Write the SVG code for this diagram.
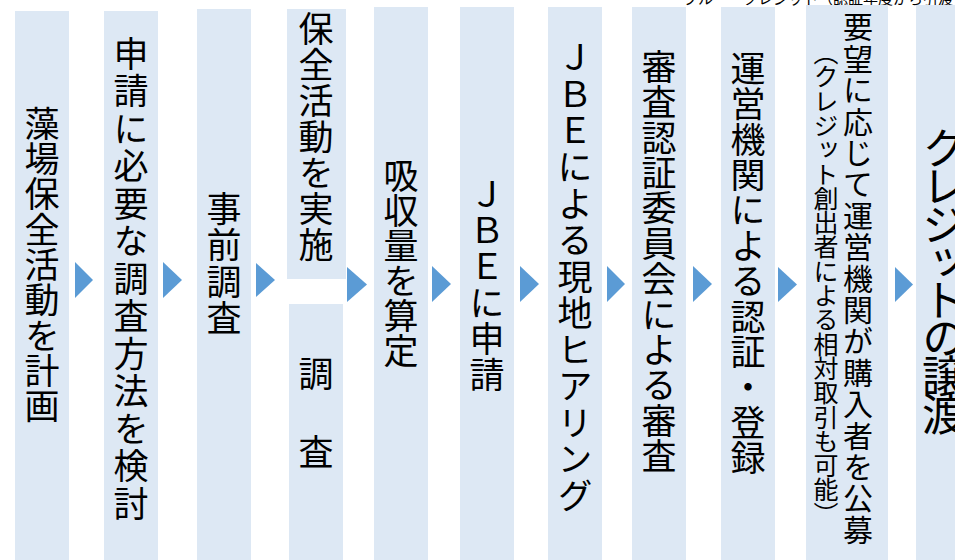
<svg xmlns="http://www.w3.org/2000/svg" width="955" height="560" viewBox="0 0 955 560">
<style>
.box{fill:#DDE8F4}
.arr{fill:#5B9BD5}
.t{font-family:"Noto Sans CJK JP","Noto Sans CJK SC",sans-serif;writing-mode:vertical-rl;font-size:35px;fill:#000}
.note{font-family:"Noto Sans CJK JP",sans-serif;font-size:15px;fill:#000}
</style>
<rect width="955" height="560" fill="#fff"/>
<text class="note" x="683" y="3.5">ブルー・クレジット（認証年度から引渡し</text>
<g id="n1"><rect class="box" x="15" y="11" width="54" height="549"/><text class="t" x="42" y="106" letter-spacing="0.3">藻場保全活動を計画</text></g>
<g id="n2"><rect class="box" x="104" y="11" width="54" height="549"/><text class="t" x="131" y="36" letter-spacing="2.5">申請に必要な調査方法を検討</text></g>
<g id="n3"><rect class="box" x="197" y="9" width="54" height="551"/><text class="t" x="224" y="191" letter-spacing="1.5">事前調査</text></g>
<g id="n4a"><rect class="box" x="287" y="9" width="59" height="270"/><text class="t" x="316" y="11" letter-spacing="1">保全活動を実施</text></g>
<g id="n4b"><rect class="box" x="289" y="304" width="54" height="256"/><text class="t" x="316" y="356" letter-spacing="4">調　査</text></g>
<g id="n5"><rect class="box" x="374" y="7" width="54" height="553"/><text class="t" x="401" y="158" letter-spacing="0">吸収量を算定</text></g>
<g id="n6"><rect class="box" x="460" y="7" width="54" height="553"/><text class="t" x="487" y="177" letter-spacing="1">ＪＢＥに申請</text></g>
<g id="n7"><rect class="box" x="548" y="7" width="54" height="553"/><text class="t" x="575" y="40" letter-spacing="1.5">ＪＢＥによる現地ヒアリング</text></g>
<g id="n8"><rect class="box" x="632" y="7" width="54" height="553"/><text class="t" x="659" y="49" letter-spacing="0.4">審査認証委員会による審査</text></g>
<g id="n9"><rect class="box" x="721" y="7" width="54" height="553"/><text class="t" x="748" y="51" letter-spacing="0.4">運営機関による認証・登録</text></g>
<g id="n10"><rect class="box" x="806" y="5" width="82" height="555"/><text class="t" x="858" y="12" letter-spacing="1.4" style="font-size:30px">要望に応じて運営機関が購入者を公募</text><text class="t" x="826" y="40" letter-spacing="-0.7" style="font-size:25px">（クレジット創出者による相対取引も可能）</text></g>
<g id="n11"><rect class="box" x="916" y="5" width="60" height="555"/><text class="t" x="944" y="126" letter-spacing="-6" style="font-size:44px">クレジットの譲渡</text></g>
<g id="connectors">
<polygon class="arr" points="75,262 93,280 75,298"/>
<polygon class="arr" points="163,262 182,280 163,298"/>
<polygon class="arr" points="256,263 275,280 256,297"/>
<polygon class="arr" points="347,267 367,284.5 347,302"/>
<polygon class="arr" points="432,266 451,284 432,302"/>
<polygon class="arr" points="520,266 539,284 520,302"/>
<polygon class="arr" points="607,266 625,284 607,302"/>
<polygon class="arr" points="693,266 712,284 693,302"/>
<polygon class="arr" points="778,267 797,284.5 778,302"/>
<polygon class="arr" points="895,267 913,284.5 895,302"/>
</g>
</svg>
